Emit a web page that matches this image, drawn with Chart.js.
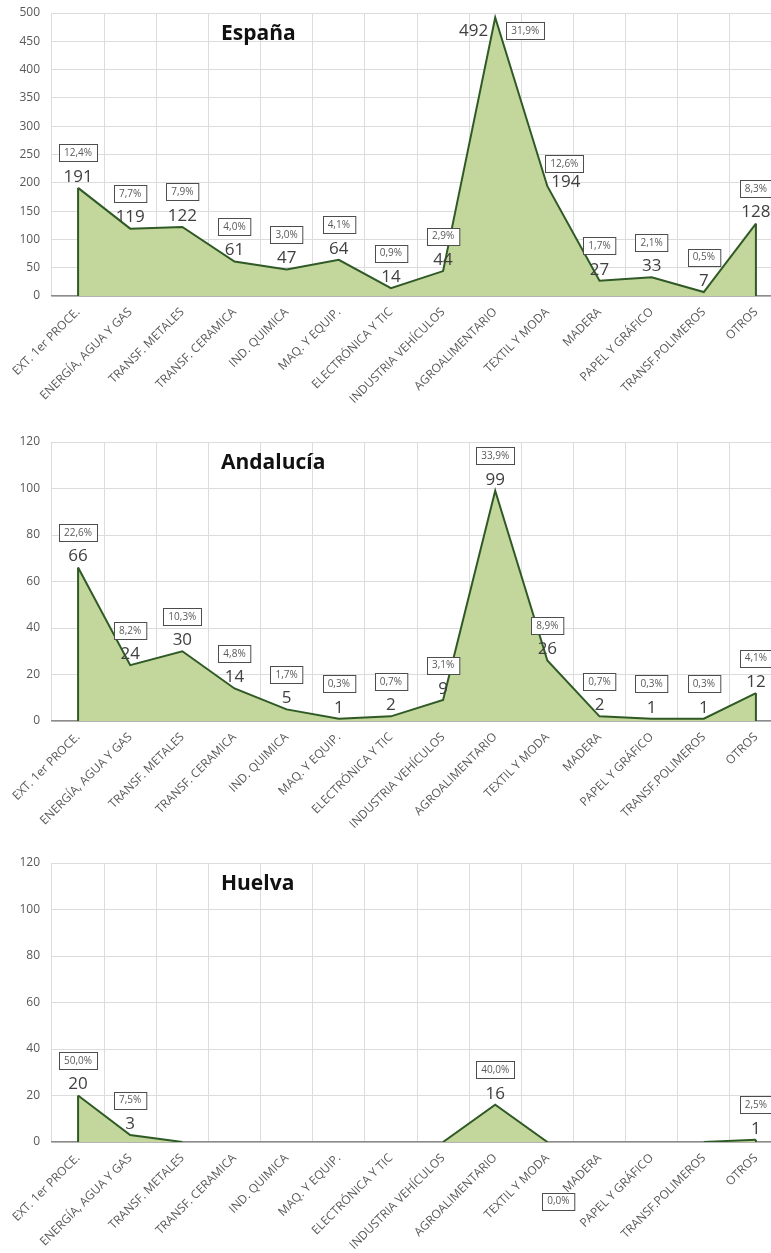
<!DOCTYPE html>
<html>
<head>
<meta charset="utf-8">
<script src="https://cdn.jsdelivr.net/npm/chart.js@4.4.1/dist/chart.umd.min.js"></script>
<style>
  html, body { margin: 0; padding: 0; background: #fff; overflow: hidden; width: 771px; height: 1253px; position: relative; }
  .panel { position: absolute; left: 0; width: 800px; }
  .panel canvas { display: block; }
</style>
</head>
<body>
<div class="panel" style="top:-10px;height:430px"><canvas id="espana"></canvas></div>
<div class="panel" style="top:420px;height:420px"><canvas id="andalucia"></canvas></div>
<div class="panel" style="top:840px;height:413px"><canvas id="huelva"></canvas></div>
<script>
const sectors = [
  'EXT. 1er PROCE.', 'ENERGÍA, AGUA Y GAS', 'TRANSF. METALES', 'TRANSF. CERAMICA',
  'IND. QUIMICA', 'MAQ. Y EQUIP.', 'ELECTRÓNICA Y TIC', 'INDUSTRIA VEHÍCULOS',
  'AGROALIMENTARIO', 'TEXTIL Y MODA', 'MADERA', 'PAPEL Y GRÁFICO',
  'TRANSF.POLIMEROS', 'OTROS'
]

const espanaValues = [191, 119, 122, 61, 47, 64, 14, 44, 492, 194, 27, 33, 7, 128]
const espanaShares = [12.4, 7.7, 7.9, 4.0, 3.0, 4.1, 0.9, 2.9, 31.9, 12.6, 1.7, 2.1, 0.5, 8.3]

const andaluciaValues = [66, 24, 30, 14, 5, 1, 2, 9, 99, 26, 2, 1, 1, 12]
const andaluciaShares = [22.6, 8.2, 10.3, 4.8, 1.7, 0.3, 0.7, 3.1, 33.9, 8.9, 0.7, 0.3, 0.3, 4.1]

const huelvaValues = [20, 3, 0, 0, 0, 0, 0, 0, 16, 0, 0, 0, 0, 1]
const huelvaShares = [50.0, 7.5, null, null, null, null, null, null, 40.0, 0.0, null, null, null, 2.5]

const FILL = '#c3d69b'
const LINE = '#2f5a26'
const GRID = '#dcdcdc'
const AXIS = '#8c8c8c'
const TEXT = '#595959'
const FONT = "'Open Sans', 'DejaVu Sans', sans-serif"

// Excel area charts outline the sides of the area too
const edgePlugin = {
  id: 'edges',
  afterDatasetsDraw(chart) {
    const pts = chart.getDatasetMeta(0).data
    const base = chart.scales.y.getPixelForValue(0)
    const ctx = chart.ctx
    ctx.save()
    ctx.strokeStyle = LINE
    ctx.lineWidth = 2
    for (const p of [pts[0], pts[pts.length - 1]]) {
      ctx.beginPath()
      ctx.moveTo(p.x, base)
      ctx.lineTo(p.x, p.y)
      ctx.stroke()
    }
    ctx.restore()
  }
}

function pctText(v) {
  return v.toFixed(1).replace('.', ',') + '%'
}

function drawBox(ctx, text, cx, cy) {
  ctx.font = '10px ' + FONT
  const w = ctx.measureText(text).width + 10
  const h = 17
  const x = Math.round(cx - w / 2) + 0.5
  const y = Math.round(cy - h / 2) + 0.5
  ctx.fillStyle = '#fff'
  ctx.fillRect(x, y, w, h)
  ctx.strokeStyle = '#4d4d4d'
  ctx.lineWidth = 1
  ctx.strokeRect(x, y, w, h)
  ctx.fillStyle = TEXT
  ctx.textAlign = 'center'
  ctx.textBaseline = 'middle'
  ctx.fillText(text, cx, cy + 0.5)
}

const labelPlugin = {
  id: 'pointLabels',
  afterDatasetsDraw(chart, args, opts) {
    const ctx = chart.ctx
    const pts = chart.getDatasetMeta(0).data
    const values = chart.data.datasets[0].data
    const place = opts.placement || {}
    ctx.save()
    opts.shares.forEach((share, i) => {
      if (share === null) return
      const p = pts[i]
      const mode = place[i] || 'above'
      let vx = p.x, vy = p.y - 11, align = 'center'
      let bx = p.x, by = p.y - 35
      if (mode === 'split') {
        vx = p.x - 7; vy = p.y + 14; align = 'right'
        bx = p.x + 30; by = p.y + 13
      } else if (mode === 'right') {
        vx = p.x + 4; vy = p.y - 4; align = 'left'
        bx = p.x + 17; by = p.y - 23
      } else if (mode === 'below') {
        bx = p.x + 11; by = p.y + 59
      }
      if (values[i] > 0) {
        ctx.font = '17px ' + FONT
        ctx.fillStyle = '#404040'
        ctx.textAlign = align
        ctx.textBaseline = 'middle'
        ctx.fillText(String(values[i]), vx, vy)
      }
      drawBox(ctx, pctText(share), bx, by)
    })
    ctx.restore()
  }
}

const titlePlugin = {
  id: 'innerTitle',
  afterDraw(chart, args, opts) {
    const ctx = chart.ctx
    ctx.save()
    ctx.font = 'bold 21px ' + FONT
    ctx.fillStyle = '#111'
    ctx.textAlign = 'left'
    ctx.textBaseline = 'middle'
    ctx.fillText(opts.text, chart.chartArea.left + 169, chart.chartArea.top + 21)
    ctx.restore()
  }
}

function makeChart(id, cfg) {
  return new Chart(document.getElementById(id), {
    type: 'line',
    data: {
      labels: sectors,
      datasets: [{
        data: cfg.values,
        fill: 'origin',
        backgroundColor: FILL,
        borderColor: LINE,
        borderWidth: 2,
        pointRadius: 0,
        tension: 0,
        segment: {
          borderColor: c => (c.p0.parsed.y === 0 && c.p1.parsed.y === 0) ? 'rgba(0,0,0,0)' : LINE
        }
      }]
    },
    options: {
      responsive: true,
      maintainAspectRatio: false,
      animation: false,
      layout: { padding: { top: cfg.top, right: 18, left: 0, bottom: 0 } },
      plugins: {
        legend: { display: false },
        tooltip: { enabled: false },
        pointLabels: { shares: cfg.shares, placement: cfg.placement },
        innerTitle: { text: cfg.title }
      },
      scales: {
        x: {
          offset: true,
          grid: { offset: true, color: GRID, drawTicks: false },
          border: { color: AXIS, width: 1.5 },
          ticks: {
            color: TEXT,
            font: { family: FONT, size: 12 },
            maxRotation: 45,
            minRotation: 45,
            autoSkip: false,
            padding: 9
          },
          afterFit(scale) { scale.height = cfg.xHeight }
        },
        y: {
          min: 0,
          max: cfg.yMax,
          grid: { color: GRID, drawTicks: false },
          border: { display: false },
          ticks: {
            stepSize: cfg.yStep,
            color: TEXT,
            font: { family: FONT, size: 12 },
            padding: 12
          },
          afterFit(scale) { scale.width = 52 }
        }
      }
    },
    plugins: [edgePlugin, labelPlugin, titlePlugin]
  })
}

makeChart('espana', {
  title: 'España', values: espanaValues, shares: espanaShares,
  yMax: 500, yStep: 50, top: 23, xHeight: 124,
  placement: { 8: 'split', 9: 'right' }
})

makeChart('andalucia', {
  title: 'Andalucía', values: andaluciaValues, shares: andaluciaShares,
  yMax: 120, yStep: 20, top: 22, xHeight: 119
})

makeChart('huelva', {
  title: 'Huelva', values: huelvaValues, shares: huelvaShares,
  yMax: 120, yStep: 20, top: 23, xHeight: 111,
  placement: { 9: 'below' }
})
</script>
</body>
</html>
